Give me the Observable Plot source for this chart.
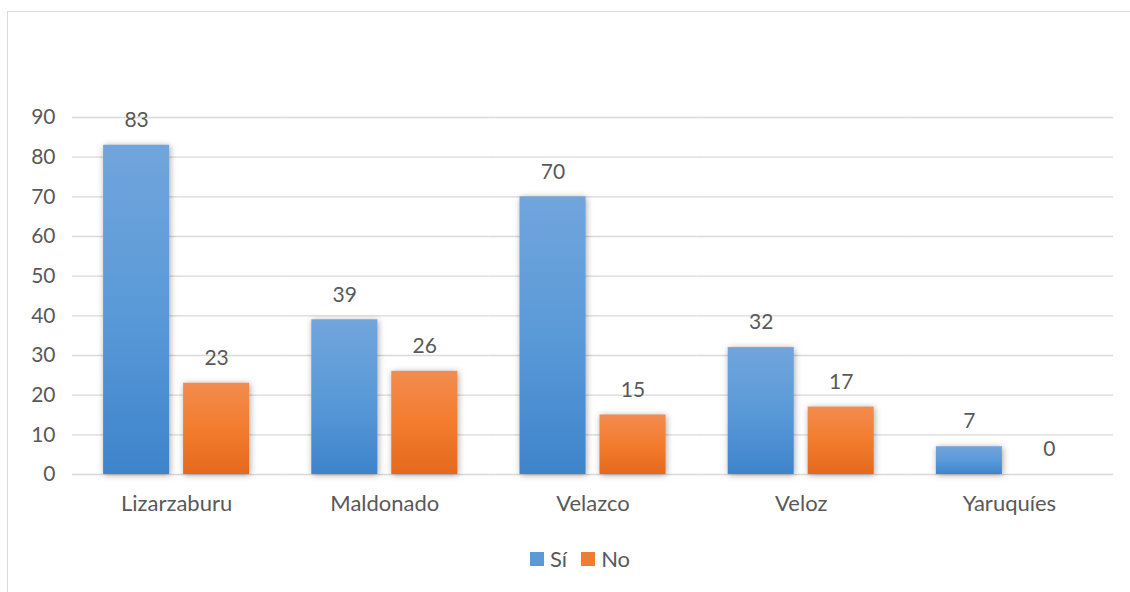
<!DOCTYPE html>
<html>
<head>
<meta charset="utf-8">
<script src="https://cdn.jsdelivr.net/npm/d3@7"></script>
<script src="https://cdn.jsdelivr.net/npm/@observablehq/plot@0.6"></script>
<style>
  html, body { margin: 0; padding: 0; background: #fff; }
  #wrap { position: relative; width: 1130px; height: 592px; overflow: hidden; font-family: Lato, "Open Sans", sans-serif; }
  #frame { position: absolute; left: 7px; top: 11px; width: 1200px; height: 700px; border-top: 1px solid #d9d9d9; border-left: 1px solid #d9d9d9; }
  #chart { position: absolute; left: 0; top: 0; }
  #legend { position: absolute; top: 545px; left: 530px; display: flex; gap: 14px; font-size: 22px; color: #595959; }
  .item { display: flex; align-items: center; gap: 6px; }
  .sw { width: 14px; height: 14px; display: inline-block; }
</style>
</head>
<body>
<div id="wrap">
  <div id="frame"></div>
  <div id="chart"></div>
  <div id="legend"></div>
</div>
<script>
const categories = ["Lizarzaburu", "Maldonado", "Velazco", "Veloz", "Yaruquíes"];
const series = ["Sí", "No"];
const siValues = [83, 39, 70, 32, 7];
const noValues = [23, 26, 15, 17, 0];
const yTicks = [0, 10, 20, 30, 40, 50, 60, 70, 80, 90];
const colors = { "Sí": "url(#gSi)", "No": "url(#gNo)" };
const legendColors = { "Sí": "#5b9bd5", "No": "#ed7d31" };

const data = [];
categories.forEach((c, i) => {
  data.push({ cat: c, s: "Sí", v: siValues[i] });
  data.push({ cat: c, s: "No", v: noValues[i] });
});

const textColor = "#595959";

const plot = Plot.plot({
  width: 1130,
  height: 540,
  marginLeft: 72,
  marginRight: 17,
  marginTop: 117,
  marginBottom: 66,
  style: { fontFamily: "Lato, 'Open Sans', sans-serif", fontSize: "20px", color: textColor, background: "transparent" },
  fx: { domain: categories, paddingInner: 0, paddingOuter: 0, round: false, label: null, axis: null },
  x: { domain: series, paddingInner: 0.175, paddingOuter: 0.389, round: false, axis: null },
  y: { domain: [0, 90], ticks: yTicks, label: null, axis: null },
  marks: [
    Plot.gridY(yTicks, { stroke: "#d9d9d9", strokeOpacity: 1, strokeWidth: 1.3 }),
    Plot.axisY(yTicks, { tickSize: 0, tickPadding: 0, dx: -17, fontSize: 21, color: textColor, label: null, textAnchor: "end" }),
    Plot.barY(data, { fx: "cat", x: "s", y: "v", fill: d => colors[d.s] }),
    Plot.text(data, { fx: "cat", x: "s", y: "v", text: d => String(d.v), dy: -25, fontSize: 21, fill: textColor }),
    Plot.axisFx({ tickSize: 0, tickPadding: 0, label: null, fontSize: 22, color: textColor, dy: 21, anchor: "bottom" })
  ]
});

// gradients
const svg = d3.select(plot);
const defs = svg.insert("defs", ":first-child");
const g1 = defs.append("linearGradient").attr("id", "gSi").attr("x1", 0).attr("y1", 0).attr("x2", 0).attr("y2", 1);
g1.append("stop").attr("offset", "0%").attr("stop-color", "#71a5dc");
g1.append("stop").attr("offset", "50%").attr("stop-color", "#5a9ad8");
g1.append("stop").attr("offset", "100%").attr("stop-color", "#3e84cb");
const g2 = defs.append("linearGradient").attr("id", "gNo").attr("x1", 0).attr("y1", 0).attr("x2", 0).attr("y2", 1);
g2.append("stop").attr("offset", "0%").attr("stop-color", "#f38c50");
g2.append("stop").attr("offset", "50%").attr("stop-color", "#f27c2e");
g2.append("stop").attr("offset", "100%").attr("stop-color", "#e5691c");

svg.selectAll("rect").style("filter", "drop-shadow(1px 1px 3px rgba(0,0,0,0.35))");

document.getElementById("chart").appendChild(plot);

const legend = document.getElementById("legend");
series.forEach(s => {
  const it = document.createElement("div");
  it.className = "item";
  const sw = document.createElement("span");
  sw.className = "sw";
  sw.style.background = legendColors[s];
  const t = document.createElement("span");
  t.textContent = s;
  it.appendChild(sw); it.appendChild(t);
  legend.appendChild(it);
});
</script>
</body>
</html>
